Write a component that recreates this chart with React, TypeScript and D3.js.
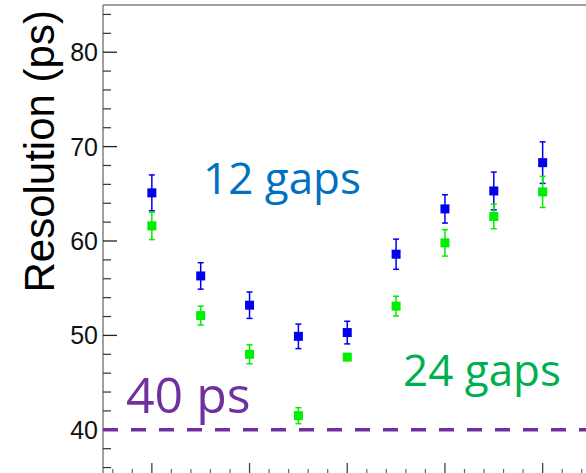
import React from 'react';
import * as d3 from 'd3';

// x positions of the measurements (tick labels are cut off in the source)
const points = [1, 2, 3, 4, 5, 6, 7, 8, 9];
// 12 gaps, values in ps and error bars
const gaps12 = [65.1, 56.3, 53.2, 49.9, 50.3, 58.6, 63.4, 65.3, 68.3];
const gaps12Err = [1.9, 1.4, 1.4, 1.3, 1.2, 1.6, 1.5, 2.0, 2.2];
// 24 gaps
const gaps24 = [61.6, 52.1, 48.0, 41.5, 47.7, 53.1, 59.8, 62.6, 65.2];
const gaps24Err = [1.45, 1.0, 1.0, 0.85, 0.3, 1.05, 1.4, 1.3, 1.65];
const yMajorTicks = [40, 50, 60, 70, 80];
const target = 40;

const width = 586;
const height = 473;

export default function App() {
  const x = d3.scaleLinear().domain([0, 10]).range([103, 591.5]);
  const y = d3.scaleLinear().domain([35, 85]).range([477, 5]);

  const yMinor = d3.range(36, 85, 2).filter(v => v % 10 !== 0);
  const xMajor = d3.range(1, 10, 2);
  const xMinor = d3.range(0.2, 10, 0.4).filter(v => Math.abs((v - 1) / 2 - Math.round((v - 1) / 2)) > 0.01);

  const series = [
    { vals: gaps12, errs: gaps12Err, color: '#0000ee' },
    { vals: gaps24, errs: gaps24Err, color: '#00ee00' },
  ];
  const sq = 9;

  return (
    <svg width={width} height={height} style={{ position: 'absolute', left: 0, top: 0 }}
      fontFamily="'Liberation Sans', Arial, sans-serif">
      <rect width={width} height={height} fill="#fff" />

      {/* frame */}
      <line x1={x(0)} x2={width} y1={y(85)} y2={y(85)} stroke="#808080" strokeWidth={1.5} />
      <line x1={x(0)} x2={x(0)} y1={y(85)} y2={height} stroke="#808080" strokeWidth={1.5} />

      {/* y ticks */}
      {yMajorTicks.map(v => (
        <g key={'ym' + v}>
          <line x1={x(0)} x2={x(0) + 14} y1={y(v)} y2={y(v)} stroke="#222" strokeWidth={1.3} />
          <text x={x(0) - 5} y={y(v)} dy="0.36em" textAnchor="end" fontSize={25} fill="#111">{v}</text>
        </g>
      ))}
      {yMinor.map(v => (
        <line key={'yn' + v} x1={x(0)} x2={x(0) + 8} y1={y(v)} y2={y(v)} stroke="#333" strokeWidth={1.2} />
      ))}

      {/* x ticks */}
      {xMajor.map(v => (
        <line key={'xm' + v} x1={x(v)} x2={x(v)} y1={y(35)} y2={y(35) - 14} stroke="#444" strokeWidth={1.3} />
      ))}
      {xMinor.map(v => (
        <line key={'xn' + v} x1={x(v)} x2={x(v)} y1={y(35)} y2={y(35) - 8} stroke="#666" strokeWidth={1.2} />
      ))}

      {/* 40 ps reference */}
      <line x1={x(0)} x2={width} y1={y(target)} y2={y(target)} stroke="#7030a0" strokeWidth={3.5}
        strokeDasharray="15 13" />

      {/* data */}
      {series.map((s, si) => (
        <g key={'s' + si}>
          {points.map((p, i) => (
            <g key={i}>
              <line x1={x(p)} x2={x(p)} y1={y(s.vals[i] - s.errs[i])} y2={y(s.vals[i] + s.errs[i])}
                stroke={s.color} strokeWidth={1.5} />
              <line x1={x(p) - 3} x2={x(p) + 3} y1={y(s.vals[i] - s.errs[i])} y2={y(s.vals[i] - s.errs[i])}
                stroke={s.color} strokeWidth={1.5} />
              <line x1={x(p) - 3} x2={x(p) + 3} y1={y(s.vals[i] + s.errs[i])} y2={y(s.vals[i] + s.errs[i])}
                stroke={s.color} strokeWidth={1.5} />
              <rect x={x(p) - sq / 2} y={y(s.vals[i]) - sq / 2} width={sq} height={sq} fill={s.color} />
            </g>
          ))}
        </g>
      ))}

      {/* annotations */}
      <text x={203} y={194} fontFamily="'Open Sans', sans-serif" fontSize={44} fill="#0070c0">12 gaps</text>
      <text x={403} y={386} fontFamily="'Open Sans', sans-serif" fontSize={44} fill="#00b050">24 gaps</text>
      <text x={126} y={413} fontFamily="'Open Sans', sans-serif" fontSize={50} fill="#7030a0">40 ps</text>

      {/* y label */}
      <text transform={`translate(54,${y(69.5)}) rotate(-90)`} textAnchor="middle" fontSize={42} fill="#000">
        Resolution (ps)
      </text>
    </svg>
  );
}
